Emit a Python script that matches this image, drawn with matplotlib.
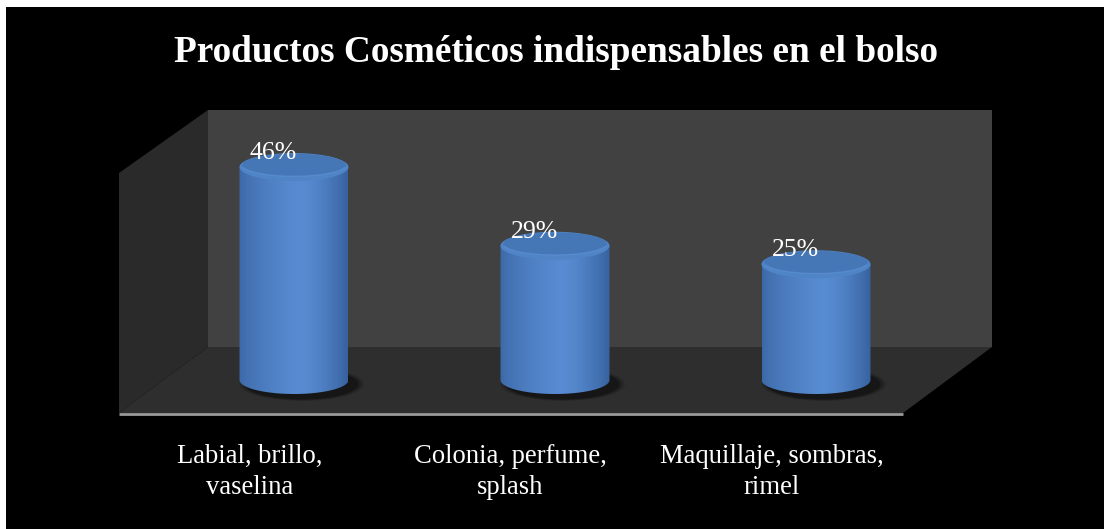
import numpy as np
import matplotlib
matplotlib.use("Agg")
import matplotlib.pyplot as plt
from matplotlib.patches import Polygon, Rectangle, Ellipse, PathPatch
from matplotlib.path import Path

# ---- data ----
title = "Productos Cosméticos indispensables en el bolso"
categories = ["Labial, brillo,\nvaselina",
              "Colonia, perfume,\nsplash",
              "Maquillaje, sombras,\nrimel"]
values = [46, 29, 25]
labels = ["46%", "29%", "25%"]

W, H = 1104, 529
fig = plt.figure(figsize=(W / 100, H / 100), dpi=100, facecolor="white")


def px(x, y):
    """figure-pixel (top-left origin) -> figure fraction"""
    return (x / W, 1 - y / H)


# black chart area
fig.patches.append(Rectangle(px(6, 529), (W - 6) / W, (529 - 7) / H,
                             transform=fig.transFigure, facecolor="black",
                             edgecolor="none", zorder=-5))

ax = fig.add_axes([0, 0, 1, 1])
ax.set_zorder(1)
ax.set_facecolor("none")
ax.axis("off")

# 3-D box: side wall, back wall, floor
side = [px(119, 173), px(208, 110), px(208, 347), px(119, 413)]
back = [px(208, 110), px(992, 110), px(992, 347), px(208, 347)]
floor = [px(119, 413), px(208, 347), px(992, 347), px(903, 413)]
ax.add_patch(Polygon(side, closed=True, transform=fig.transFigure,
                     facecolor="#2a2a2a", edgecolor="none", zorder=1))
ax.add_patch(Polygon(back, closed=True, transform=fig.transFigure,
                     facecolor="#414141", edgecolor="none", zorder=1))
ax.add_patch(Polygon(floor, closed=True, transform=fig.transFigure,
                     facecolor="#2e2e2e", edgecolor="none", zorder=1))
ax.plot([119 / W, 903 / W], [1 - 413.5 / H, 1 - 413.5 / H], color="#9a9a9a",
        lw=2, transform=fig.transFigure, zorder=2, solid_capstyle="butt")

# value scale: category spacing 261 px, 4.63 px per percent, baseline at y=380
x_unit, y_unit = 261.0, 4.63
x0_px, base_px = 294.0, 380.0

bw = 109 / x_unit          # cylinder width
eh = 28 / y_unit           # ellipse height (value units)

# horizontal shading across cylinder body
c_edge_l = np.array([0x3a, 0x66, 0xa4]) / 255
c_mid = np.array([0x58, 0x8c, 0xd2]) / 255
c_edge_r = np.array([0x37, 0x62, 0x9f]) / 255
t = np.linspace(0, 1, 200)
grad = np.empty((1, 200, 3))
for k, tt in enumerate(t):
    if tt < 0.55:
        f = (tt / 0.55) ** 0.6
        grad[0, k] = c_edge_l * (1 - f) + c_mid * f
    else:
        f = ((tt - 0.55) / 0.45) ** 1.6
        grad[0, k] = c_mid * (1 - f) + c_edge_r * f

for i, v in enumerate(values):
    xl, xr = i - bw / 2, i + bw / 2
    # soft shadow on the floor
    for s, a in [(1.14, 0.12), (1.09, 0.2), (1.04, 0.3)]:
        ax.add_patch(Ellipse((i + 0.03, -0.9), bw * s, eh * s * 1.05,
                             facecolor="black", alpha=a, edgecolor="none",
                             zorder=3))
    # body outline: top edge straight, bottom half-ellipse
    th = np.linspace(np.pi, 2 * np.pi, 60)
    arc = np.column_stack([i + bw / 2 * np.cos(th), eh / 2 * np.sin(th)])
    verts = np.vstack([[xl, v], arc, [xr, v], [xl, v]])
    body = PathPatch(Path(verts, closed=True), facecolor="none",
                     edgecolor="none", zorder=4)
    ax.add_patch(body)
    im = ax.imshow(grad, extent=[xl, xr, -eh / 2, v], aspect="auto",
                   interpolation="bilinear", zorder=4)
    im.set_clip_path(body)
    # top cap
    ax.add_patch(Ellipse((i, v), bw, eh, facecolor="#4f84c6",
                         edgecolor="none", zorder=5))
    ax.add_patch(Ellipse((i, v + eh * 0.07), bw * 0.95, eh * 0.8,
                         facecolor="#4576b6", edgecolor="none", zorder=5))
    th2 = np.linspace(np.pi * 1.08, np.pi * 1.92, 60)
    ax.plot(i + bw / 2 * 0.95 * np.cos(th2), v + eh * 0.07 + eh / 2 * 0.8 * np.sin(th2),
            color="#5f93d6", lw=1.0, alpha=0.6, zorder=6)
    # value label
    ax.text(i - 21 / x_unit, v + 3.0, labels[i], ha="center", va="center",
            color="white", fontsize=18.5, family="Liberation Serif", zorder=7)
    # category label, centred under the front edge of the floor
    ax.text(i - 44.5 / x_unit, -(472 - base_px) / y_unit, categories[i],
            ha="center", va="center", color="white", fontsize=19.2,
            family="Liberation Serif", linespacing=1.36, zorder=7)

ax.set_xlim(-x0_px / x_unit, (W - x0_px) / x_unit)
ax.set_ylim(-(H - base_px) / y_unit, base_px / y_unit)

fig.text(556 / W, 1 - 53 / H, title, ha="center", va="center", color="white",
         fontsize=26.8, fontweight="bold", family="Liberation Serif", zorder=3)

fig.savefig("out.png", dpi=100, facecolor="white")
